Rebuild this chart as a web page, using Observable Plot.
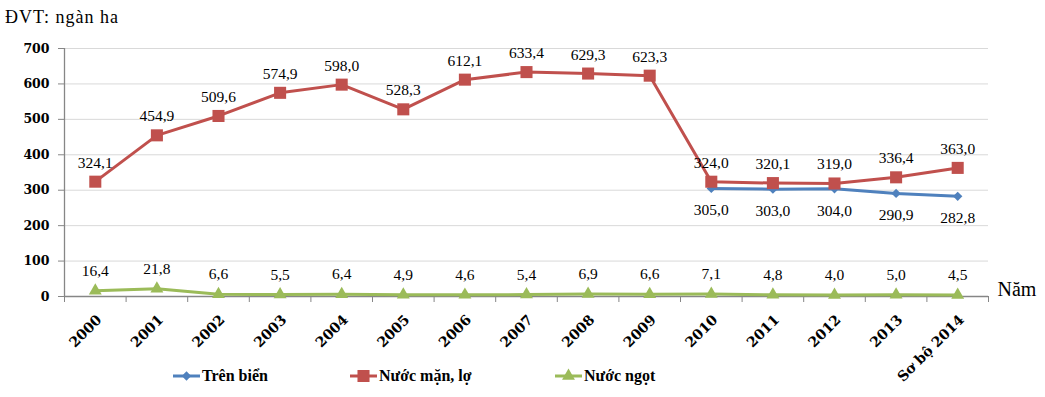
<!DOCTYPE html>
<html>
<head>
<meta charset="utf-8">
<script src="https://cdn.jsdelivr.net/npm/d3@7"></script>
<script src="https://cdn.jsdelivr.net/npm/@observablehq/plot@0.6"></script>
<style>
  body { margin: 0; background: #fff; }
  #wrap { position: relative; width: 1045px; height: 397px; overflow: hidden; }
  #title { position: absolute; left: 5px; top: 7px; font: 18px "Liberation Serif", serif; letter-spacing: 1px; color: #000; white-space: nowrap; }
  #legend { position: absolute; top: 366px; left: 0; height: 20px; width: 1045px; font: bold 16px "Liberation Serif", serif; color: #000; }
  .item { position: absolute; top: 0; display: flex; align-items: center; white-space: nowrap; }
  .item svg { display: block; margin-right: 2px; }
  #chart svg { position: absolute; left: 0; top: 0; }
</style>
</head>
<body>
<div id="wrap">
  <div id="chart"></div>
  <div id="title">ĐVT: ngàn ha</div>
  <div id="legend"></div>
</div>
<script>
// ---- Data ----
const years = ["2000","2001","2002","2003","2004","2005","2006","2007","2008","2009","2010","2011","2012","2013","Sơ bộ 2014"];
const seriesNames = ["Trên biển", "Nước mặn, lợ", "Nước ngọt"];
const trenBien  = [null,null,null,null,null,null,null,null,null,null,305.0,303.0,304.0,290.9,282.8];
const nuocManLo = [324.1,454.9,509.6,574.9,598.0,528.3,612.1,633.4,629.3,623.3,324.0,320.1,319.0,336.4,363.0];
const nuocNgot  = [16.4,21.8,6.6,5.5,6.4,4.9,4.6,5.4,6.9,6.6,7.1,4.8,4.0,5.0,4.5];
const yTicks = [0,100,200,300,400,500,600,700];
const xAxisLabel = "Năm";

const colors = {"Trên biển": "#4F81BD", "Nước mặn, lợ": "#C0504D", "Nước ngọt": "#9BBB59"};
const symbols = {"Trên biển": "diamond2", "Nước mặn, lợ": "square", "Nước ngọt": "triangle"};
const radii = {"Trên biển": 4.2, "Nước mặn, lợ": 6.8, "Nước ngọt": 4.8};

const rows = (arr) => years.map((y, i) => ({i, year: y, value: arr[i]})).filter(d => d.value != null);
const dB = rows(trenBien), dM = rows(nuocManLo), dN = rows(nuocNgot);
const fmt = v => v.toFixed(1).replace(".", ",");
const idx = d3.range(years.length);
const bounds = d3.range(years.length + 1).map(k => k - 0.5);

const labelFont = {fontFamily: "Liberation Serif", fontSize: 15.5, fill: "#000"};

const chart = Plot.plot({
  width: 1045,
  height: 397,
  marginLeft: 64,
  marginRight: 57,
  marginTop: 48,
  marginBottom: 101,
  style: {fontFamily: "Liberation Serif", fontSize: "15px", background: "transparent", overflow: "visible"},
  x: {type: "linear", domain: [-0.5, years.length - 0.5]},
  y: {domain: [0, 700]},
  marks: [
    Plot.gridY(yTicks, {stroke: "#d9d9d9", strokeOpacity: 1, strokeWidth: 1}),
    Plot.axisY({ticks: yTicks, tickSize: 6, tickPadding: 9, stroke: "#868686", fontFamily: "DejaVu Serif", fontWeight: "bold", fontSize: 12.5, fill: "#000", label: null}),
    Plot.ruleX([-0.5], {stroke: "#868686", strokeWidth: 1.3}),
    Plot.ruleY([0], {stroke: "#868686", strokeWidth: 1.3}),
    Plot.axisX({ticks: bounds, tickSize: 6, stroke: "#868686", tickFormat: () => "", label: null}),
    Plot.axisX({ticks: idx, tickSize: 0, tickPadding: 21, tickRotate: -45, tickFormat: i => years[i], fontFamily: "DejaVu Serif", fontWeight: "bold", fontSize: 14, fill: "#000", label: null, dx: 4}),
    Plot.text([xAxisLabel], {frameAnchor: "bottom-right", textAnchor: "start", dx: 9, dy: -1, fontFamily: "Liberation Serif", fontSize: 20, fill: "#000"}),
    // lines
    Plot.line(dB, {x: "i", y: "value", stroke: colors["Trên biển"], strokeWidth: 3}),
    Plot.dot(dB, {x: "i", y: "value", symbol: symbols["Trên biển"], r: radii["Trên biển"], fill: colors["Trên biển"], stroke: null}),
    Plot.line(dM, {x: "i", y: "value", stroke: colors["Nước mặn, lợ"], strokeWidth: 3}),
    Plot.dot(dM, {x: "i", y: "value", symbol: symbols["Nước mặn, lợ"], r: radii["Nước mặn, lợ"], fill: colors["Nước mặn, lợ"], stroke: null}),
    Plot.line(dN, {x: "i", y: "value", stroke: colors["Nước ngọt"], strokeWidth: 3}),
    Plot.dot(dN, {x: "i", y: "value", symbol: symbols["Nước ngọt"], r: radii["Nước ngọt"], fill: colors["Nước ngọt"], stroke: null}),
    // labels
    Plot.text(dM, {x: "i", y: "value", text: d => fmt(d.value), dy: -19, ...labelFont}),
    Plot.text(dB, {x: "i", y: "value", text: d => fmt(d.value), dy: 22, ...labelFont}),
    Plot.text(dN, {x: "i", y: "value", text: d => fmt(d.value), dy: -20, ...labelFont})
  ]
});
document.getElementById("chart").appendChild(chart);

// ---- Legend ----
const legendPos = {"Trên biển": 173, "Nước mặn, lợ": 350, "Nước ngọt": 555};
const legend = document.getElementById("legend");
for (const name of seriesNames) {
  const item = document.createElement("div");
  item.className = "item";
  item.style.left = legendPos[name] + "px";
  const svg = d3.create("svg").attr("width", 27).attr("height", 20);
  svg.append("line").attr("x1", 0).attr("x2", 27).attr("y1", 10).attr("y2", 10).attr("stroke", colors[name]).attr("stroke-width", 3);
  const sym = {diamond2: d3.symbolDiamond2, square: d3.symbolSquare, triangle: d3.symbolTriangle}[symbols[name]];
  svg.append("path").attr("transform", "translate(13.5,10)").attr("d", d3.symbol(sym, Math.PI * radii[name] ** 2)()).attr("fill", colors[name]);
  item.appendChild(svg.node());
  const span = document.createElement("span");
  span.textContent = name;
  item.appendChild(span);
  legend.appendChild(item);
}
</script>
</body>
</html>
